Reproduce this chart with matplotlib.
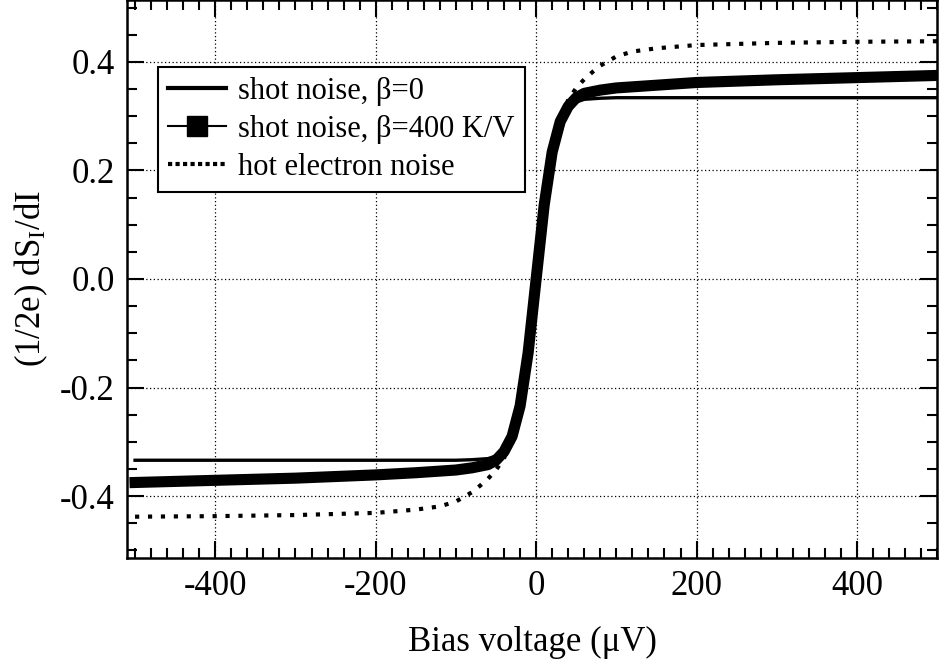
import matplotlib
matplotlib.use("Agg")
import matplotlib.pyplot as plt
from matplotlib.lines import Line2D
from matplotlib.ticker import MultipleLocator

plt.rcParams['font.family'] = ['Liberation Serif', 'DejaVu Serif']
plt.rcParams['mathtext.fontset'] = 'custom'
plt.rcParams['mathtext.rm'] = 'Liberation Serif'
plt.rcParams['mathtext.it'] = 'Liberation Serif:italic'

# bias voltage in microvolts
bias = [-500, -400, -300, -200, -150, -120, -100, -80, -70, -60, -50, -40, -30, -20, -10, 0,
        10, 20, 30, 40, 50, 60, 70, 80, 100, 120, 150, 200, 300, 400, 500]

shot_beta0 = [-0.334, -0.334, -0.334, -0.334, -0.334, -0.334, -0.334, -0.333, -0.332, -0.331,
              -0.326, -0.313, -0.288, -0.233, -0.136, 0.0, 0.136, 0.233, 0.288, 0.313, 0.326,
              0.331, 0.332, 0.333, 0.334, 0.334, 0.334, 0.334, 0.334, 0.334, 0.334]

shot_beta400 = [-0.375, -0.371, -0.367, -0.361, -0.357, -0.354, -0.352, -0.348, -0.345, -0.342,
                -0.334, -0.318, -0.290, -0.234, -0.136, 0.0, 0.136, 0.234, 0.290, 0.318, 0.334,
                0.342, 0.345, 0.348, 0.352, 0.354, 0.357, 0.362, 0.367, 0.371, 0.375]

hot_electron = [-0.438, -0.437, -0.435, -0.431, -0.425, -0.419, -0.410, -0.393, -0.381, -0.368,
                -0.352, -0.330, -0.295, -0.240, -0.140, 0.0, 0.140, 0.240, 0.295, 0.330, 0.352,
                0.368, 0.381, 0.393, 0.410, 0.419, 0.425, 0.431, 0.435, 0.437, 0.438]

labels = ["shot noise, β=0", "shot noise, β=400 K/V", "hot electron noise"]

fig = plt.figure(figsize=(9.41, 6.65), dpi=100)
ax = fig.add_axes([0.135, 0.161, 0.861, 0.839])

ax.plot(bias, shot_beta400, color='k', lw=8, solid_capstyle='projecting',
        solid_joinstyle='round', zorder=3)
ax.plot(bias, shot_beta0, color='k', lw=2.4, zorder=4)
ax.plot(bias, hot_electron, color='k', lw=3, linestyle=(0, (1, 2.1)), zorder=2)

ax.set_xlim(-510, 500)
ax.set_ylim(-0.514, 0.514)
ax.xaxis.set_minor_locator(MultipleLocator(20))
ax.yaxis.set_minor_locator(MultipleLocator(0.05))
ax.set_yticks([-0.4, -0.2, 0.0, 0.2, 0.4])
ax.set_yticklabels(["-0.4", "-0.2", "0.0", "0.2", "0.4"])
ax.set_xticks([-400, -200, 0, 200, 400])
ax.set_xticklabels(["-400", "-200", "0", "200", "400"])

ax.tick_params(which='both', direction='in', top=True, right=True, width=1.5)
ax.tick_params(which='major', length=12, labelsize=25, pad=9)
ax.tick_params(which='minor', length=7)
for s in ax.spines.values():
    s.set_linewidth(1.8)

ax.grid(True, which='major', color='k', linestyle=(0, (1, 2)), linewidth=0.9)
ax.set_axisbelow(True)

ax.set_xlabel("Bias voltage (μV)", fontsize=25, labelpad=16)
ax.set_ylabel(r"(1/2e) dS$_\mathrm{I}$/dI", fontsize=25, labelpad=7)

# legend keys: the beta=400 curve is shown as a thin line with a square
handles = [Line2D([], [], color='k', lw=3),
           Line2D([], [], color='k', lw=1.5, marker='s', ms=14),
           Line2D([], [], color='k', lw=3, linestyle=(0, (1, 0.8)))]
leg = ax.legend(handles, labels, loc='upper left', bbox_to_anchor=(0.038, 0.88),
                borderaxespad=0, fontsize=22, frameon=True, fancybox=False,
                handlelength=1.9, handletextpad=0.42, labelspacing=0.3,
                borderpad=0.32)
leg.get_frame().set_edgecolor('k')
leg.get_frame().set_linewidth(1.5)
leg.get_frame().set_alpha(1)

fig.savefig("out.png", dpi=100)
